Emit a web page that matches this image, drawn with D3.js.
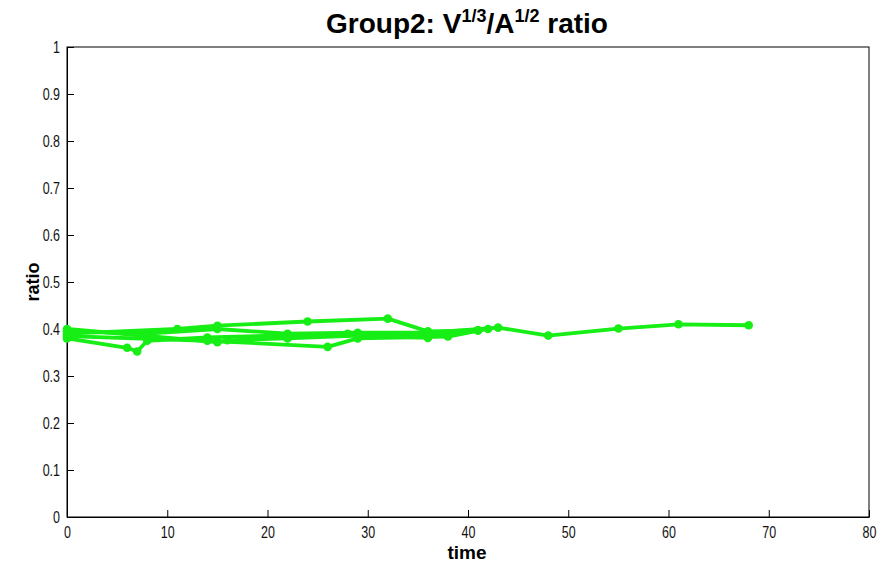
<!DOCTYPE html>
<html><head><meta charset="utf-8">
<script src="https://cdn.jsdelivr.net/npm/d3@7/dist/d3.min.js"></script>
<style>body{margin:0;background:#fff}</style>
</head><body>
<svg id="c" width="880" height="569"></svg>
<script>
// Series data: [time, ratio]
const series1 = [[0,0.395],[8,0.39],[15,0.40],[22,0.39],[29,0.392],[36,0.392],[43,0.403],[48,0.386],[55,0.401],[61,0.41],[68,0.408]];
const series2 = [[0,0.38],[6,0.36],[7,0.352],[8,0.375],[14,0.382],[21,0.386],[28,0.39],[36,0.387],[41,0.397]];
const series3 = [[0,0.39],[11,0.40],[15,0.407],[24,0.416],[32,0.422],[36,0.395],[41,0.397]];
const series4 = [[0,0.385],[14,0.375],[26,0.362],[29,0.38],[38,0.384],[42,0.40]];
const series5 = [[0,0.40],[15,0.372],[16,0.376],[22,0.38],[29,0.386],[36,0.381]];
const allSeries = [series1, series2, series3, series4, series5];
const xTicks = [0,10,20,30,40,50,60,70,80];
const yTicks = [0,0.1,0.2,0.3,0.4,0.5,0.6,0.7,0.8,0.9,1];

const svg = d3.select("#c");
const L = 67, R = 869, T = 47, B = 517;
const x = d3.scaleLinear().domain([0,80]).range([L,R]);
const y = d3.scaleLinear().domain([0,1]).range([B,T]);
const tickFont = "'Liberation Sans',Arial,sans-serif";
const color = "#16ee16";
const sx = 0.78;

// box
svg.append("rect").attr("x",L).attr("y",T).attr("width",R-L).attr("height",B-T)
  .attr("fill","none").attr("stroke","#000").attr("stroke-width",1);

const xa = svg.append("g").attr("transform",`translate(0,${B})`)
  .call(d3.axisBottom(x).tickValues(xTicks).tickSizeInner(-7).tickSizeOuter(0).tickPadding(10).tickFormat(d3.format("d")));
const ya = svg.append("g").attr("transform",`translate(${L},0)`)
  .call(d3.axisLeft(y).tickValues(yTicks).tickSizeInner(-7).tickSizeOuter(0).tickPadding(7).tickFormat(d => d === 0 || d === 1 ? d3.format("d")(d) : d3.format(".1f")(d)));
[xa, ya].forEach(a => {
  a.select(".domain").attr("stroke","#000");
  a.selectAll(".tick line").attr("stroke","#000");
  a.selectAll(".tick text").attr("fill","#111").style("font-family",tickFont).style("font-size","16px")
    .attr("transform",`scale(${sx},1)`);
});
ya.selectAll(".tick text").attr("x",-7/sx);

const line = d3.line().x(d => x(d[0])).y(d => y(d[1]));
allSeries.forEach(s => {
  svg.append("path").datum(s).attr("d",line).attr("fill","none")
    .attr("stroke",color).attr("stroke-width",3.8).attr("stroke-linejoin","round");
  svg.selectAll(null).data(s).enter().append("circle")
    .attr("cx",d => x(d[0])).attr("cy",d => y(d[1])).attr("r",4.3).attr("fill",color);
});

const labFont = "'Liberation Sans',Arial,sans-serif";
svg.append("text").attr("x",467).attr("y",559).attr("text-anchor","middle")
  .style("font-family",labFont).style("font-weight","bold").style("font-size","19px").text("time");
svg.append("text").attr("transform",`translate(39,${(T+B)/2}) rotate(-90)`).attr("text-anchor","middle")
  .style("font-family",labFont).style("font-weight","bold").style("font-size","18px").text("ratio");

const title = svg.append("text").attr("x",467).attr("y",33).attr("text-anchor","middle")
  .style("font-family",labFont).style("font-weight","bold").style("font-size","28px");
title.append("tspan").text("Group2: V");
title.append("tspan").attr("dy",-11).style("font-size","18px").text("1/3");
title.append("tspan").attr("dy",11).text("/A");
title.append("tspan").attr("dy",-11).style("font-size","18px").text("1/2");
title.append("tspan").attr("dy",11).text(" ratio");
</script>
</body></html>
